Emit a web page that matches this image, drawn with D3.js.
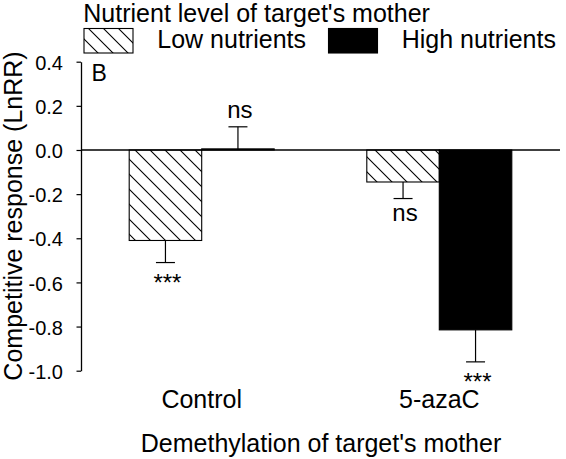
<!DOCTYPE html>
<html>
<head>
<meta charset="utf-8">
<script src="https://cdn.jsdelivr.net/npm/d3@7"></script>
<style>
  html, body { margin: 0; padding: 0; background: #fff; }
  svg { display: block; }
  text { font-family: "Liberation Sans", Arial, Helvetica, sans-serif; fill: #000; }
</style>
</head>
<body>
<svg id="chart" width="566" height="459"></svg>
<script>
// ---- data ----
const categories = ["Control", "5-azaC"];
const series = ["Low nutrients", "High nutrients"];
const lowValues = [-0.41, -0.145];
const highValues = [0.005, -0.815];
const lowErrors = [0.10, 0.075];
const highErrors = [0.10, 0.145];
const lowSig = ["***", "ns"];
const highSig = ["ns", "***"];
const yTickValues = [0.4, 0.2, 0.0, -0.2, -0.4, -0.6, -0.8, -1.0];
const yTickLabels = ["0.4", "0.2", "0.0", "-0.2", "-0.4", "-0.6", "-0.8", "-1.0"];
const legendTitle = "Nutrient level of target's mother";
const yTitle = "Competitive response (LnRR)";
const xTitle = "Demethylation of target's mother";
const panelLabel = "B";

// ---- build table ----
const rows = [];
categories.forEach((c, i) => {
  rows.push({cat: c, ser: series[0], v: lowValues[i], e: lowErrors[i], sig: lowSig[i]});
  rows.push({cat: c, ser: series[1], v: highValues[i], e: highErrors[i], sig: highSig[i]});
});

const svg = d3.select("#chart");

const axisX = 81, plotRight = 560;
const y = d3.scaleLinear().domain([-1.0, 0.4]).range([370.7, 61.7]);
const x0 = d3.scalePoint().domain(categories).range([axisX, plotRight]).padding(0.508);
const x1 = d3.scaleBand().domain(series).range([-72.5, 72.5]).paddingInner(0);

// pattern
const defs = svg.append("defs");
const pat = defs.append("pattern")
  .attr("id", "hatch").attr("patternUnits", "userSpaceOnUse")
  .attr("width", 15).attr("height", 15);
pat.append("path")
  .attr("d", "M-4,-4 L19,19 M-4,11 L4,19 M11,-4 L19,4")
  .attr("stroke", "#000").attr("stroke-width", 1.1).attr("fill", "none");

const fillFor = s => s === series[0] ? "url(#hatch)" : "#000";

// bars
svg.append("g").selectAll("rect").data(rows).join("rect")
  .attr("x", d => x0(d.cat) + x1(d.ser))
  .attr("width", x1.bandwidth())
  .attr("y", d => Math.min(y(d.v), y(0)))
  .attr("height", d => Math.abs(y(d.v) - y(0)))
  .attr("fill", d => fillFor(d.ser))
  .attr("stroke", "#000").attr("stroke-width", 1.1);

// error bars
const errEnd = d => d.v >= 0 ? d.v + d.e : d.v - d.e;
const cx = d => x0(d.cat) + x1(d.ser) + x1.bandwidth() / 2;
const eg = svg.append("g").attr("stroke", "#000").attr("stroke-width", 1.2);
eg.selectAll("line.v").data(rows).join("line").attr("class", "v")
  .attr("x1", cx).attr("x2", cx)
  .attr("y1", d => y(d.v)).attr("y2", d => y(errEnd(d)));
eg.selectAll("line.c").data(rows).join("line").attr("class", "c")
  .attr("x1", d => cx(d) - 9.5).attr("x2", d => cx(d) + 9.5)
  .attr("y1", d => y(errEnd(d))).attr("y2", d => y(errEnd(d)));

// significance labels
svg.append("g").selectAll("text").data(rows).join("text")
  .attr("x", d => cx(d) + 2)
  .attr("y", d => {
    const ye = y(errEnd(d));
    if (d.v >= 0) return ye - 8.5;
    return d.sig === "***" ? ye + 28 : ye + 22;
  })
  .attr("text-anchor", "middle")
  .attr("font-size", 24)
  .text(d => d.sig);

// zero line
svg.append("line")
  .attr("x1", axisX).attr("x2", plotRight)
  .attr("y1", y(0)).attr("y2", y(0))
  .attr("stroke", "#000").attr("stroke-width", 1.3);

// y axis
const yAxis = d3.axisLeft(y).tickValues(yTickValues)
  .tickFormat((d, i) => yTickLabels[i])
  .tickSize(4.5).tickSizeOuter(0).tickPadding(13.5);
const ga = svg.append("g").attr("transform", `translate(${axisX},0)`).call(yAxis);
ga.select(".domain").attr("stroke", "#000").attr("stroke-width", 1.3);
ga.selectAll(".tick line").attr("stroke", "#000").attr("stroke-width", 1.2);
ga.selectAll(".tick text")
  .attr("font-size", 20).attr("dy", "0.38em")
  .style("font-family", '"Liberation Sans", Arial, sans-serif').attr("fill", "#000");

// category labels
svg.append("g").selectAll("text").data(categories).join("text")
  .attr("x", d => x0(d)).attr("y", 407.5)
  .attr("text-anchor", "middle").attr("font-size", 25)
  .text(d => d);

// x title
svg.append("text").attr("x", 321).attr("y", 451.5)
  .attr("text-anchor", "middle").attr("font-size", 25).text(xTitle);

// y title
svg.append("text").attr("transform", "translate(22,216) rotate(-90)")
  .attr("text-anchor", "middle").attr("font-size", 25).text(yTitle);

// panel label
svg.append("text").attr("x", 91.5).attr("y", 80.5)
  .style("font-size", "23px").text(panelLabel);

// legend
svg.append("text").attr("x", 83.3).attr("y", 22).attr("font-size", 25).text(legendTitle);
const legX = [84, 328.5];
const legTextX = [157.3, 401.7];
series.forEach((s, i) => {
  svg.append("rect").attr("x", legX[i]).attr("y", 28.5)
    .attr("width", 49).attr("height", 24.5)
    .attr("fill", fillFor(s)).attr("stroke", "#000").attr("stroke-width", 1.1);
  svg.append("text").attr("x", legTextX[i]).attr("y", 48)
    .attr("font-size", 25).text(s);
});
</script>
</body>
</html>
